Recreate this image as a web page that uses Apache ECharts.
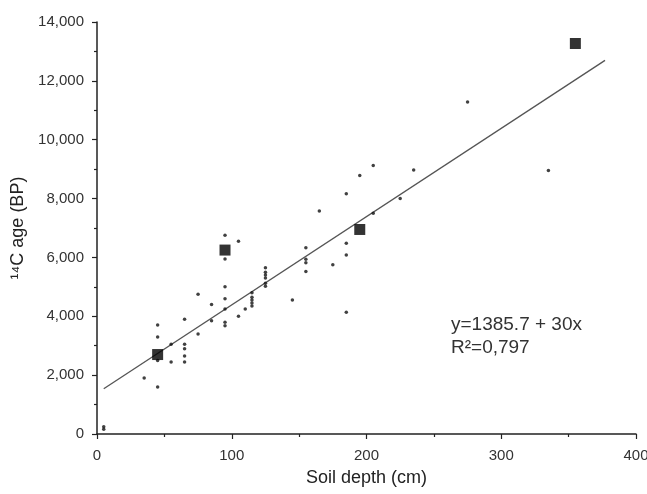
<!DOCTYPE html>
<html><head><meta charset="utf-8">
<script src="https://cdn.jsdelivr.net/npm/echarts@6/dist/echarts.min.js"></script>
<style>html,body{margin:0;padding:0;background:#fff}#c{width:647px;height:494px}</style>
</head><body><div id="c"></div>
<script>
// Soil depth (cm) of individual dated samples
const sampleDepth = [5,5,35,45,45,45,45,55,55,65,65,65,65,65,75,75,85,85,95,95,95,95,95,95,95,105,105,110,115,115,115,115,115,125,125,125,125,125,125,145,155,155,155,155,165,175,185,185,185,185,195,205,205,225,235,275,335];
// 14C age (BP) of individual samples
const sampleAge = [250,160,1900,1600,3700,3300,2500,3050,2450,3900,3050,2900,2650,2450,4750,3400,4400,3850,6750,5950,5000,4600,4250,3800,3680,6550,4000,4250,4800,4650,4550,4450,4350,5650,5500,5400,5300,5120,5020,4550,6330,5940,5820,5520,7580,5750,8160,6480,6080,4140,8780,9120,7500,8000,8970,11280,8950];
// Highlighted (large square) samples
const keyDepth = [45,95,195,355];
const keyAge = [2700,6250,6950,13270];
// Regression
const intercept = 1385.7, slope = 30;
const fitRange = [5, 377];
const xTicks = [0,100,200,300,400];
const yTicks = [0,2000,4000,6000,8000,10000,12000,14000];

const chart = echarts.init(document.getElementById('c'), null, {renderer:'canvas'});
const font = 'Liberation Sans, Arial, sans-serif';
chart.setOption({
  animation:false,
  backgroundColor:'#fff',
  grid:{left:97,right:11,top:22,bottom:60,containLabel:false,outerBoundsMode:'none'},
  xAxis:{type:'value',min:xTicks[0],max:xTicks[xTicks.length-1],interval:100,
    name:'Soil depth (cm)',nameLocation:'middle',nameGap:35,
    nameTextStyle:{fontFamily:font,fontSize:18,color:'#222'},
    axisLine:{lineStyle:{color:'#222',width:1.5}},
    axisTick:{length:5,lineStyle:{color:'#222',width:1.2}},
    minorTick:{show:true,splitNumber:2,length:3,lineStyle:{color:'#222',width:1.2}},
    splitLine:{show:false},
    axisLabel:{fontFamily:font,fontSize:15,color:'#333',margin:14,hideOverlap:false}},
  yAxis:{type:'value',min:yTicks[0],max:yTicks[yTicks.length-1],interval:2000,
    name:'\u00B9\u2074C age (BP)',nameLocation:'middle',nameGap:70,nameRotate:90,
    nameTextStyle:{fontFamily:font,fontSize:18,color:'#222'},
    axisLine:{show:true,lineStyle:{color:'#222',width:1.5}},
    axisTick:{show:true,length:5,lineStyle:{color:'#222',width:1.2}},
    minorTick:{show:true,splitNumber:2,length:3,lineStyle:{color:'#222',width:1.2}},
    splitLine:{show:false},
    axisLabel:{fontFamily:font,fontSize:15,color:'#333',margin:13,
      formatter:v=>v.toLocaleString('en-US')}},
  series:[
    {type:'line',data:fitRange.map(x=>[x,intercept+slope*x]),symbol:'none',
      lineStyle:{color:'#555',width:1.3},silent:true,z:1},
    {type:'scatter',data:sampleDepth.map((d,i)=>[d,sampleAge[i]]),symbol:'circle',symbolSize:3.5,
      itemStyle:{color:'#111'},z:2},
    {type:'scatter',data:keyDepth.map((d,i)=>[d,keyAge[i]]),symbol:'rect',symbolSize:11,
      itemStyle:{color:'#000'},z:3}
  ],
  graphic:[
    {type:'text',left:451,top:315,style:{text:'y=1385.7 + 30x',fontFamily:font,fontSize:19,fill:'#333'}},
    {type:'text',left:451,top:338,style:{text:'R\u00B2=0,797',fontFamily:font,fontSize:19,fill:'#333'}}
  ]
});
</script></body></html>
